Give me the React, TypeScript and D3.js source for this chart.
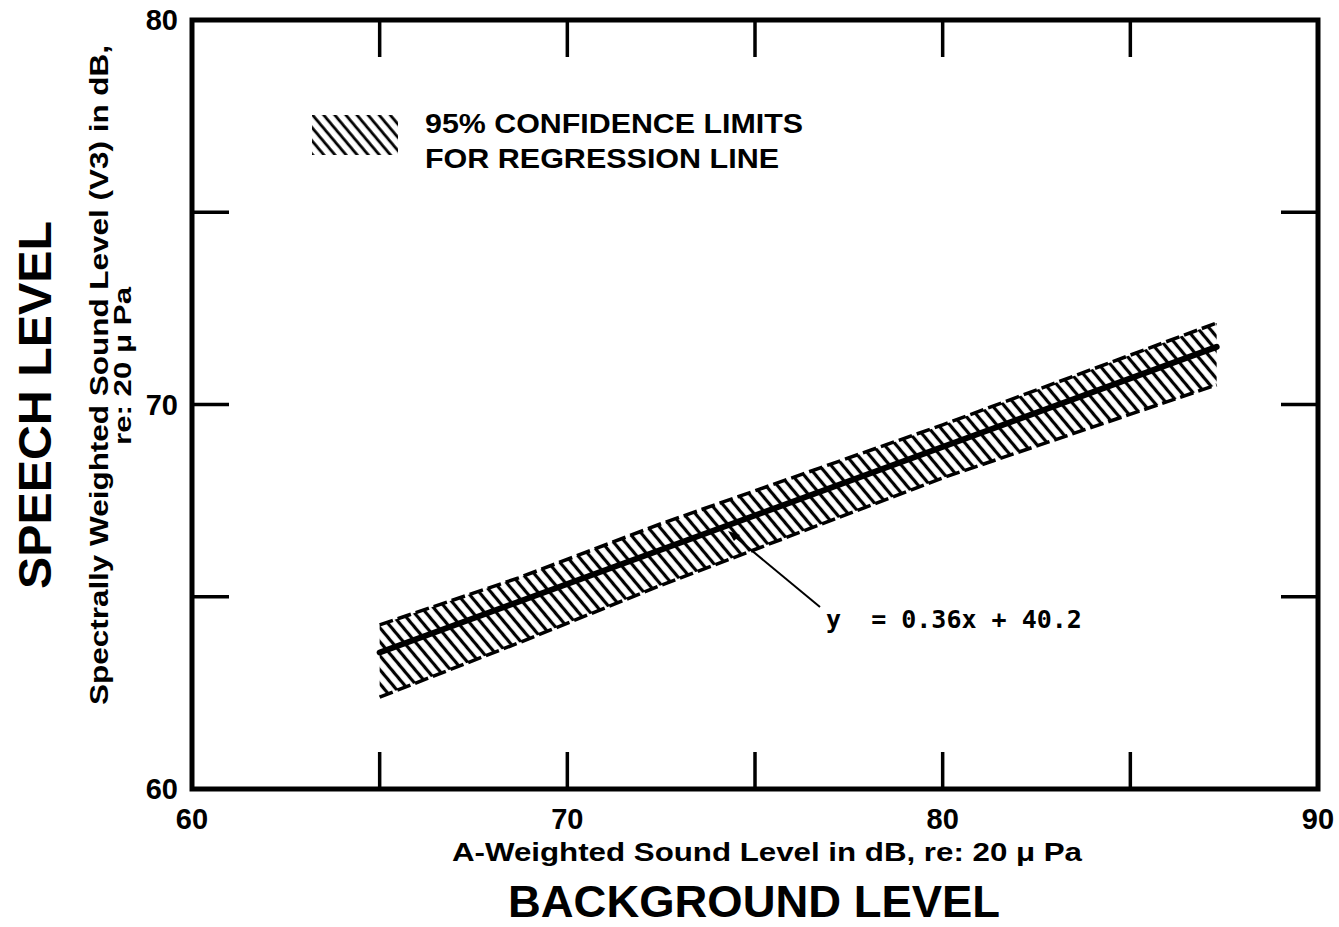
import React from "react";
import * as d3 from "d3";

const xTicks = [60, 65, 70, 75, 80, 85, 90];
const yTicks = [60, 65, 70, 75, 80];
const xTickLabels = [60, 70, 80, 90];
const yTickLabels = [60, 70, 80];

const bandX = [65, 68.7, 72.5, 80, 87.3];
const bandUpper = [64.27, 65.49, 66.9, 69.47, 72.12];
const bandLower = [62.39, 63.8, 65.3, 68.09, 70.51];
const regX = [65, 87.3];
const regY = [63.55, 71.5];

const W = 1339;
const H = 927;

export default function App() {
  const x = d3.scaleLinear().domain([60, 90]).range([192, 1318]);
  const y = d3.scaleLinear().domain([60, 80]).range([789, 20]);
  const regAt = d3.scaleLinear().domain(regX).range(regY);

  const upperArea = d3
    .area<number>()
    .x((d) => x(d))
    .y0((d) => y(regAt(d)))
    .y1((d, i) => y(bandUpper[i]))(bandX) as string;
  const lowerArea = d3
    .area<number>()
    .x((d) => x(d))
    .y0((d) => y(regAt(d)))
    .y1((d, i) => y(bandLower[i]))(bandX) as string;
  const upperLine = d3
    .line<number>()
    .x((d) => x(d))
    .y((d, i) => y(bandUpper[i]))(bandX) as string;
  const lowerLine = d3
    .line<number>()
    .x((d) => x(d))
    .y((d, i) => y(bandLower[i]))(bandX) as string;
  const regLine = d3
    .line<number>()
    .x((d) => x(d))
    .y((d, i) => y(regY[i]))(regX) as string;

  const tickLen = 37;
  const font = "'Liberation Sans', Arial, sans-serif";

  return (
    <svg width={W} height={H} style={{ position: "absolute", left: 0, top: 0, background: "#fff" }}>
      <defs>
        <pattern id="hatch" width="9" height="40" patternUnits="userSpaceOnUse" patternTransform="rotate(-40)">
          <line x1="4.5" y1="-2" x2="4.5" y2="42" stroke="#000" strokeWidth="3.2" />
        </pattern>
        <pattern id="hatchLeg" width="8.5" height="40" patternUnits="userSpaceOnUse" patternTransform="rotate(-40)">
          <line x1="4" y1="-2" x2="4" y2="42" stroke="#000" strokeWidth="2.8" />
        </pattern>
      </defs>
      <rect width={W} height={H} fill="#fff" />

      {/* band */}
      <path d={upperArea} fill="url(#hatch)" />
      <path d={lowerArea} fill="url(#hatch)" />
      <path d={upperLine} fill="none" stroke="#000" strokeWidth={3.5} strokeDasharray="14 5" />
      <path d={lowerLine} fill="none" stroke="#000" strokeWidth={3.5} strokeDasharray="14 5" />
      <path d={regLine} fill="none" stroke="#000" strokeWidth={6} strokeLinecap="round" />

      {/* frame */}
      <rect x={x(60)} y={y(80)} width={x(90) - x(60)} height={y(60) - y(80)} fill="none" stroke="#000" strokeWidth={5} />
      {xTicks.slice(1, -1).map((t) => (
        <g key={"xt" + t}>
          <line x1={x(t)} x2={x(t)} y1={y(60)} y2={y(60) - tickLen} stroke="#000" strokeWidth={3.5} />
          <line x1={x(t)} x2={x(t)} y1={y(80)} y2={y(80) + tickLen} stroke="#000" strokeWidth={3.5} />
        </g>
      ))}
      {yTicks.slice(1, -1).map((t) => (
        <g key={"yt" + t}>
          <line x1={x(60)} x2={x(60) + tickLen} y1={y(t)} y2={y(t)} stroke="#000" strokeWidth={3.5} />
          <line x1={x(90)} x2={x(90) - tickLen} y1={y(t)} y2={y(t)} stroke="#000" strokeWidth={3.5} />
        </g>
      ))}

      {/* tick labels */}
      {xTickLabels.map((t) => (
        <text key={"xl" + t} x={x(t)} y={829} textAnchor="middle" fontFamily={font} fontWeight="bold" fontSize={29}>
          {t}
        </text>
      ))}
      {yTickLabels.map((t) => (
        <text key={"yl" + t} x={178} y={y(t) + 10} textAnchor="end" fontFamily={font} fontWeight="bold" fontSize={29}>
          {t}
        </text>
      ))}

      {/* axis titles */}
      <text x={767} y={861} textAnchor="middle" fontFamily={font} fontWeight="bold" fontSize={25} textLength={630} lengthAdjust="spacingAndGlyphs">
        A-Weighted Sound Level in dB, re: 20 μ Pa
      </text>
      <text x={754} y={917} textAnchor="middle" fontFamily={font} fontWeight="bold" fontSize={45} textLength={492} lengthAdjust="spacingAndGlyphs">
        BACKGROUND LEVEL
      </text>
      <text transform="translate(51,405) rotate(-90)" textAnchor="middle" fontFamily={font} fontWeight="bold" fontSize={47} textLength={368} lengthAdjust="spacingAndGlyphs">
        SPEECH LEVEL
      </text>
      <text transform="translate(108,375) rotate(-90)" textAnchor="middle" fontFamily={font} fontWeight="bold" fontSize={25} textLength={660} lengthAdjust="spacingAndGlyphs">
        Spectrally Weighted Sound Level (V3) in dB,
      </text>
      <text transform="translate(131,366) rotate(-90)" textAnchor="middle" fontFamily={font} fontWeight="bold" fontSize={24} textLength={158} lengthAdjust="spacingAndGlyphs">
        re: 20 μ Pa
      </text>

      {/* legend */}
      <rect x={312} y={115} width={86} height={40} fill="url(#hatchLeg)" />
      <text x={425} y={133} fontFamily={font} fontWeight="bold" fontSize={28} textLength={378} lengthAdjust="spacingAndGlyphs">
        95% CONFIDENCE LIMITS
      </text>
      <text x={425} y={168} fontFamily={font} fontWeight="bold" fontSize={28} textLength={354} lengthAdjust="spacingAndGlyphs">
        FOR REGRESSION LINE
      </text>

      {/* annotation */}
      <line x1={820} y1={607} x2={733} y2={535} stroke="#000" strokeWidth={2} />
      <path d="M 728 531 L 740 535 L 734 541 Z" fill="#000" />
      <text x={826} y={628} fontFamily="'DejaVu Sans Mono', monospace" fontWeight="bold" fontSize={25} xmlSpace="preserve" style={{ whiteSpace: "pre" }}>
        {"y  = 0.36x + 40.2"}
      </text>
    </svg>
  );
}
